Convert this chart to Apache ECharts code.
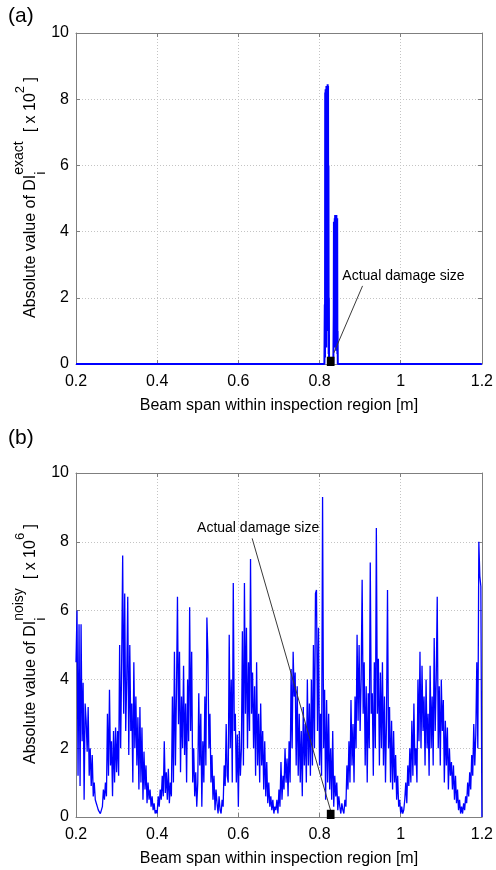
<!DOCTYPE html>
<html>
<head>
<meta charset="utf-8">
<script src="https://cdn.jsdelivr.net/npm/echarts@6/dist/echarts.min.js"></script>
<style>
html,body{margin:0;padding:0;background:#fff;}
#chart{width:496px;height:870px;}
</style>
</head>
<body>
<div id="chart"></div>
<script>
// ---------- data ----------
const xTicks = [0.2, 0.4, 0.6, 0.8, 1.0, 1.2];
const yTicks = [0, 2, 4, 6, 8, 10];

// (a) exact damage index (x 10^2)
const exactX = [0.2, 0.812, 0.8125, 0.813, 0.8135, 0.814, 0.8145, 0.815, 0.8155, 0.816, 0.8165,
  0.817, 0.8175, 0.818, 0.8185, 0.819, 0.8195, 0.82, 0.8205, 0.821, 0.8215, 0.822, 0.8225,
  0.823, 0.8235, 0.834, 0.8345, 0.835, 0.8355, 0.836, 0.8365, 0.837, 0.8375, 0.838, 0.8385,
  0.839, 0.8395, 0.84, 0.8405, 0.841, 0.8415, 0.842, 0.8425, 0.843, 0.8435, 0.844, 0.8445, 0.845, 1.2];
const exactY = [0, 0, 0, 1.8, 0.2, 8.2, 1.0, 8.3, 3.0, 8.3, 0.5,
  8.4, 2.0, 8.4, 4.0, 8.4, 1.0, 8.45, 5.5, 8.4, 2.0, 6.0, 0.3,
  2.0, 0, 0, 0, 1.5, 4.3, 0.5, 4.3, 1.0, 4.4, 2.0, 4.5,
  0.5, 4.5, 1.5, 4.5, 0.4, 4.5, 2.0, 4.4, 1.0, 4.4, 0.3, 1.0, 0, 0];

// (b) noisy damage index (x 10^6), sampled every 0.0025 m from 0.2 m
const noisyStart = 0.2;
const noisyStep = 0.0025;
const noisyValues = [
  4.5, 6.0, 1.2, 5.6, 0.9, 5.6, 2.2, 3.9, 0.5, 3.3,
  2.8, 1.9, 3.2, 1.2, 2.0, 0.9, 1.8, 0.6, 1.0, 0.5,
  0.4, 0.3, 0.2, 0.15, 0.1, 0.2, 0.3, 0.8, 0.5, 1.0,
  0.6, 3.0, 1.2, 3.7, 1.5, 2.2, 0.6, 2.5, 1.0, 2.6,
  1.3, 2.5, 1.2, 5.0, 2.0, 4.5, 7.6, 3.0, 6.5, 2.5,
  4.0, 6.4, 1.8, 5.0, 2.5, 3.3, 1.0, 4.5, 2.0, 3.5,
  1.5, 2.9, 0.8, 3.2, 1.0, 2.6, 0.5, 1.9, 0.8, 1.5,
  0.4, 1.0, 0.5, 0.8, 0.3, 0.6, 0.2, 0.4, 0.1, 0.2,
  0.1, 0.6, 0.3, 0.8, 0.5, 1.2, 0.6, 2.2, 0.7, 1.3,
  0.5, 1.4, 0.4, 1.0, 0.6, 3.5, 1.0, 4.8, 1.5, 3.6,
  6.4, 2.7, 4.8, 1.3, 3.5, 2.0, 4.4, 1.8, 3.3, 1.0,
  4.0, 2.2, 6.1, 2.5, 4.8, 1.0, 2.0, 0.6, 1.3, 0.3,
  1.0, 3.6, 1.5, 3.0, 0.3, 2.2, 1.0, 3.5, 1.5, 5.8,
  4.7, 2.0, 3.0, 1.0, 1.8, 0.5, 1.2, 0.2, 0.8, 0.4,
  0.1, 0.6, 0.2, 0.1, 0.5, 0.3, 1.5, 0.9, 2.7, 1.2,
  1.0, 5.3, 2.0, 4.0, 1.0, 6.8, 2.5, 3.0, 1.0, 2.4,
  0.3, 2.5, 1.2, 2.0, 5.4, 1.5, 6.8, 3.0, 5.5, 2.0,
  4.5, 2.5, 7.5, 3.0, 4.2, 2.0, 3.8, 1.2, 4.5, 1.5,
  3.0, 1.0, 3.3, 1.5, 2.5, 0.8, 2.2, 0.6, 1.6, 0.4,
  1.0, 0.3, 0.6, 0.2, 0.5, 0.1, 0.3, 0.2, 0.5, 0.1,
  0.8, 0.3, 1.6, 0.5, 1.2, 0.8, 2.0, 1.0, 1.7, 0.6,
  2.2, 1.0, 4.3, 2.0, 4.8, 3.5, 4.2, 1.5, 3.8, 1.2,
  3.0, 1.0, 2.5, 0.6, 3.2, 1.5, 2.7, 1.0, 4.0, 1.5,
  3.3, 1.2, 4.0, 1.5, 5.0, 2.0, 6.5, 6.6, 2.5, 5.5,
  1.5, 3.0, 1.2, 9.3, 2.0, 3.7, 0.5, 3.4, 1.0, 3.0,
  0.8, 2.0, 0.5, 2.5, 0.3, 1.2, 0.6, 1.0, 0.2, 0.6,
  0.3, 0.1, 0.4, 0.2, 0.1, 0.5, 0.3, 1.5, 0.8, 2.2,
  1.0, 3.4, 1.5, 2.7, 1.0, 3.5, 2.0, 5.3, 2.8, 5.0,
  2.5, 4.0, 6.9, 3.0, 4.5, 1.5, 3.8, 1.0, 3.6, 2.0,
  7.4, 3.0, 3.6, 1.2, 4.5, 2.0, 8.4, 3.0, 4.6, 1.5,
  4.2, 2.0, 4.5, 1.5, 3.5, 1.0, 2.8, 6.6, 2.0, 3.2,
  1.0, 2.8, 0.8, 2.5, 1.0, 1.8, 0.5, 1.2, 0.3, 0.5,
  0.1, 0.3, 0.1, 0.2, 0.5, 1.0, 0.4, 1.5, 0.9, 2.0,
  1.0, 2.8, 1.2, 3.3, 1.5, 2.0, 1.0, 4.0, 2.2, 4.8,
  2.0, 4.4, 2.5, 3.5, 1.5, 4.0, 2.0, 3.0, 1.2, 4.4,
  2.0, 3.5, 1.5, 5.2, 2.5, 4.0, 6.4, 2.0, 3.8, 1.5,
  4.0, 2.5, 3.4, 1.0, 2.8, 1.5, 2.6, 0.8, 2.0, 1.2,
  1.6, 0.8, 1.5, 0.5, 1.2, 0.4, 0.8, 0.2, 0.5, 0.1,
  0.3, 0.1, 0.4, 0.2, 0.6, 0.4, 1.0, 0.6, 1.3, 0.8,
  1.8, 1.2, 2.7, 1.5, 2.4, 4.5, 2.0, 8.0, 7.0, 6.7,
  0
];

// actual damage location [start, end] and marker height
const damageZone = [0.818, 0.837];
const damageMarkA = 0.22;
const damageMarkB = 0.21;

// annotations: arrow [tail, head] and text anchor (data coords)
const annotationText = 'Actual damage size';
const arrowA = [[0.835, 0.33], [0.906, 2.36]];
const textA = [0.855, 2.66];
const arrowB = [[0.827, 0.2], [0.634, 8.1]];
const textB = [0.497, 8.4];

const xName = 'Beam span within inspection region [m]';

// ---------- chart ----------
const FONT = 'Arial, "Liberation Sans", Helvetica, sans-serif';
const exactData = exactX.map((x, i) => [x, exactY[i]]);
const noisyData = noisyValues.map((v, i) => [+(noisyStart + i * noisyStep).toFixed(4), v]);

const chart = echarts.init(document.getElementById('chart'), null, {renderer: 'canvas'});

const AXIS_COLOR = '#7f7f7f';
function fmtX(v) { return String(+(+v).toFixed(1)); }

function xMain(gi) {
  return {
    type: 'value', gridIndex: gi, position: 'bottom',
    min: xTicks[0], max: xTicks[xTicks.length - 1], interval: 0.2,
    axisLine: {onZero: false, lineStyle: {color: AXIS_COLOR, width: 1}},
    axisTick: {inside: true, length: 4, lineStyle: {color: AXIS_COLOR}},
    axisLabel: {color: '#000', fontSize: 16, fontFamily: FONT, margin: 10, formatter: fmtX, hideOverlap: false},
    splitLine: {show: true, lineStyle: {color: '#c4c4c4', type: [1, 2], width: 1}},
    name: xName, nameLocation: 'middle', nameGap: 34,
    nameTextStyle: {color: '#000', fontSize: 16, fontFamily: FONT}
  };
}
function xMirror(gi) {
  return {
    type: 'value', gridIndex: gi, position: 'top',
    min: xTicks[0], max: xTicks[xTicks.length - 1], interval: 0.2,
    axisLine: {onZero: false, lineStyle: {color: AXIS_COLOR, width: 1}},
    axisTick: {inside: true, length: 4, lineStyle: {color: AXIS_COLOR}},
    axisLabel: {show: false}, splitLine: {show: false}
  };
}
function yMain(gi) {
  return {
    type: 'value', gridIndex: gi, position: 'left',
    min: yTicks[0], max: yTicks[yTicks.length - 1], interval: 2,
    axisLine: {show: true, onZero: false, lineStyle: {color: AXIS_COLOR, width: 1}},
    axisTick: {show: true, inside: true, length: 4, lineStyle: {color: AXIS_COLOR}},
    axisLabel: {color: '#000', fontSize: 16, fontFamily: FONT, margin: 7},
    splitLine: {show: true, lineStyle: {color: '#c4c4c4', type: [1, 2], width: 1}}
  };
}
function yMirror(gi) {
  return {
    type: 'value', gridIndex: gi, position: 'right',
    min: yTicks[0], max: yTicks[yTicks.length - 1], interval: 2,
    axisLine: {show: true, onZero: false, lineStyle: {color: AXIS_COLOR, width: 1}},
    axisTick: {show: true, inside: true, length: 4, lineStyle: {color: AXIS_COLOR}},
    axisLabel: {show: false}, splitLine: {show: false}
  };
}

function damageSeries(xi, yi, h) {
  return {
    type: 'custom', xAxisIndex: xi, yAxisIndex: yi, clip: false, z: 5, silent: true,
    data: [[damageZone[0], damageZone[1], h]],
    encode: {x: [0, 1], y: 2},
    renderItem: function (params, api) {
      const p0 = api.coord([api.value(0), api.value(2)]);
      const p1 = api.coord([api.value(1), 0]);
      return {type: 'rect', shape: {x: p0[0], y: p0[1], width: p1[0] - p0[0], height: p1[1] - p0[1] + 2},
        style: {fill: '#000'}};
    }
  };
}

function annot(arrow, text) {
  return {
    markLine: {
      silent: true, animation: false, symbol: ['none', 'arrow'], symbolSize: [0, 8],
      lineStyle: {color: '#3a3a3a', width: 1, type: 'solid'},
      itemStyle: {color: '#3a3a3a'},
      label: {show: false},
      emphasis: {disabled: true},
      data: [[{coord: arrow[0]}, {coord: arrow[1]}]]
    },
    markPoint: {
      silent: true, animation: false, symbol: 'rect', symbolSize: 1,
      itemStyle: {color: 'rgba(0,0,0,0)'},
      label: {show: true, position: 'right', distance: 0, formatter: annotationText,
        color: '#000', fontSize: 14, fontFamily: FONT},
      data: [{coord: text}]
    }
  };
}

// rotated y-axis titles with sub/superscripts
const measureCtx = document.createElement('canvas').getContext('2d');
function tw(t, s) { measureCtx.font = s + 'px ' + FONT; return measureCtx.measureText(t).width; }
function yTitle(cx, cy, segs) {
  let total = 0;
  let pending = 0;
  segs.forEach(sg => {
    const w = tw(sg.t, sg.s);
    if (sg.stack) { pending = Math.max(pending, w); }
    else { total += Math.max(pending, w); pending = 0; }
  });
  let x = -total / 2;
  let stackW = 0;
  const children = [];
  segs.forEach(sg => {
    const w = tw(sg.t, sg.s);
    children.push({type: 'text', x: x, y: sg.dy || 0,
      style: {text: sg.t, fontSize: sg.s, fontFamily: FONT, fill: '#000',
        align: 'left', verticalAlign: 'middle', textAlign: 'left', textVerticalAlign: 'middle'}});
    if (sg.stack) { stackW = Math.max(stackW, w); }
    else { x += Math.max(stackW, w); stackW = 0; }
  });
  return {type: 'group', x: cx, y: cy, rotation: Math.PI / 2, children: children};
}

const option = {
  animation: false,
  backgroundColor: '#fff',
  grid: [
    {left: 76, top: 33, width: 408, height: 331},
    {left: 76, top: 473, width: 408, height: 344}
  ],
  xAxis: [xMain(0), xMirror(0), xMain(1), xMirror(1)],
  yAxis: [yMain(0), yMirror(0), yMain(1), yMirror(1)],
  series: [
    Object.assign({
      type: 'line', xAxisIndex: 0, yAxisIndex: 0, data: exactData, symbol: 'none',
      lineStyle: {color: '#0000ff', width: 2}, itemStyle: {color: '#0000ff'}, z: 3
    }, annot(arrowA, textA)),
    Object.assign({
      type: 'line', xAxisIndex: 2, yAxisIndex: 2, data: noisyData, symbol: 'none',
      lineStyle: {color: '#0000ff', width: 1.3}, itemStyle: {color: '#0000ff'}, z: 3
    }, annot(arrowB, textB)),
    damageSeries(0, 0, damageMarkA),
    damageSeries(2, 2, damageMarkB)
  ],
  graphic: [
    {type: 'text', left: 8, top: 6, style: {text: '(a)', fontSize: 21, fontFamily: FONT, fill: '#000'}},
    {type: 'text', left: 8, top: 428, style: {text: '(b)', fontSize: 21, fontFamily: FONT, fill: '#000'}},
    yTitle(31, 197.5, [
      {t: 'Absolute value of DI', s: 16},
      {t: 'i', s: 14, dy: 10.5, stack: true},
      {t: 'exact', s: 14, dy: -11.5},
      {t: '  [ x 10', s: 16},
      {t: '2', s: 13, dy: -11},
      {t: ' ]', s: 16}
    ]),
    yTitle(31, 644, [
      {t: 'Absolute value of DI', s: 16},
      {t: 'i', s: 14, dy: 10.5, stack: true},
      {t: 'noisy', s: 14, dy: -11.5},
      {t: '  [ x 10', s: 16},
      {t: '6', s: 13, dy: -11},
      {t: ' ]', s: 16}
    ])
  ]
};
chart.setOption(option);
</script>
</body>
</html>
